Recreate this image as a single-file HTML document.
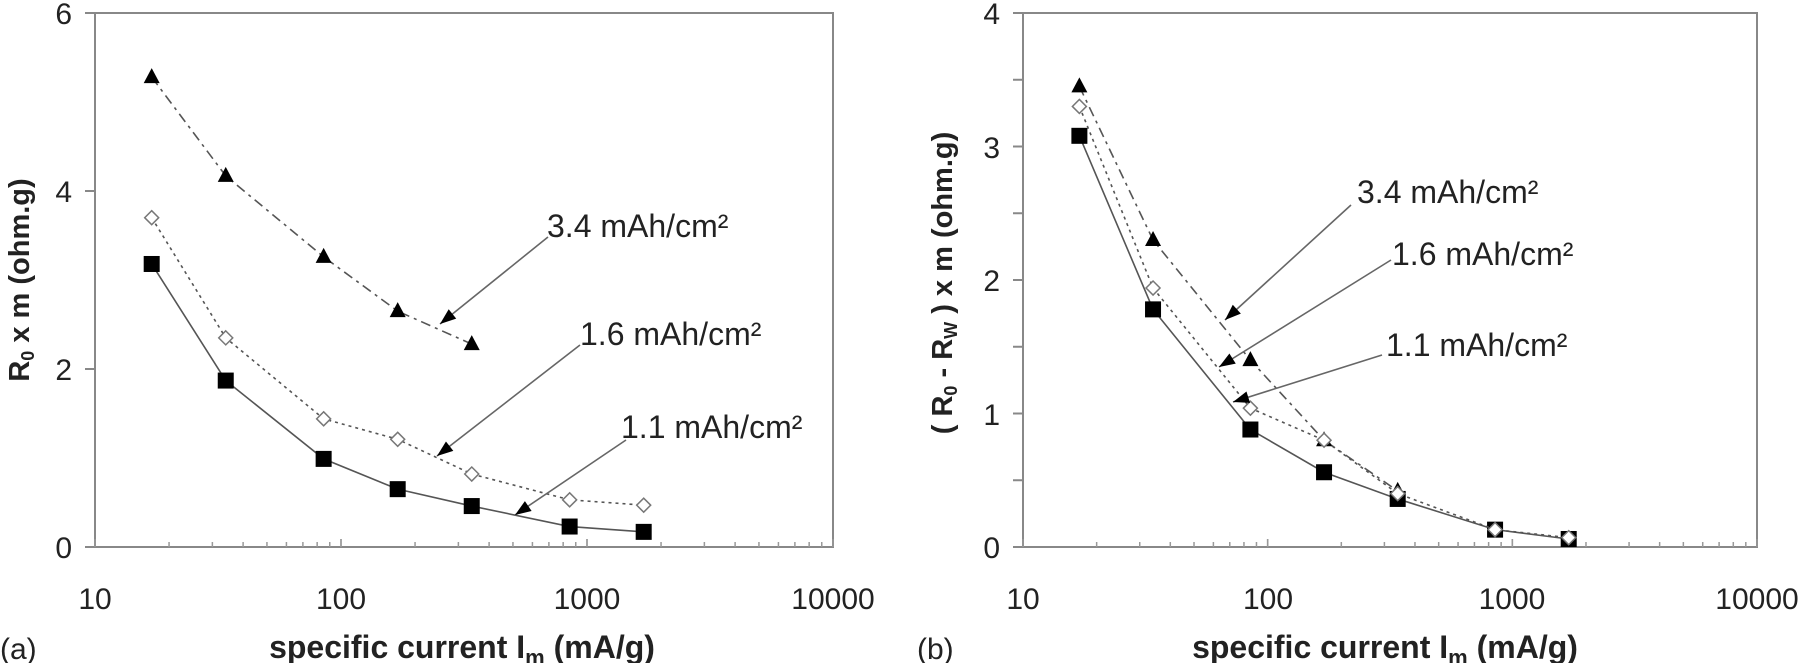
<!DOCTYPE html>
<html><head><meta charset="utf-8"><style>
body{margin:0;background:#fff;width:1800px;height:663px;overflow:hidden}
text{font-family:"Liberation Sans",Arial,sans-serif;fill:#222}
</style></head><body>
<svg id="s" width="1800" height="663" xmlns="http://www.w3.org/2000/svg">
<g font-size="30">
<text x="72" y="24" text-anchor="end">6</text>
<text x="72" y="202" text-anchor="end">4</text>
<text x="72" y="380" text-anchor="end">2</text>
<text x="72" y="558" text-anchor="end">0</text>
<text x="95" y="609" text-anchor="middle">10</text>
<text x="341" y="609" text-anchor="middle">100</text>
<text x="587" y="609" text-anchor="middle">1000</text>
<text x="833" y="609" text-anchor="middle">10000</text>
<text x="0" y="659">(a)</text>
</g>
<g font-size="32">
<text x="547" y="237">3.4 mAh/cm²</text>
<text x="580" y="345">1.6 mAh/cm²</text>
<text x="621" y="438">1.1 mAh/cm²</text>
</g>
<text x="462" y="658" font-size="32" font-weight="bold" text-anchor="middle">specific current I<tspan font-size="22" dy="7">m</tspan><tspan dy="-7"> (mA/g)</tspan></text>
<text transform="translate(29,280) rotate(-90)" font-size="29" font-weight="bold" text-anchor="middle">R<tspan font-size="18" dy="5">0</tspan><tspan dy="-5"> x m (ohm.g)</tspan></text>
<g font-size="30">
<text x="1000" y="24" text-anchor="end">4</text>
<text x="1000" y="158" text-anchor="end">3</text>
<text x="1000" y="291" text-anchor="end">2</text>
<text x="1000" y="425" text-anchor="end">1</text>
<text x="1000" y="558" text-anchor="end">0</text>
<text x="1023" y="609" text-anchor="middle">10</text>
<text x="1268" y="609" text-anchor="middle">100</text>
<text x="1512" y="609" text-anchor="middle">1000</text>
<text x="1757" y="609" text-anchor="middle">10000</text>
<text x="917" y="659">(b)</text>
</g>
<g font-size="32">
<text x="1357" y="203">3.4 mAh/cm²</text>
<text x="1392" y="265">1.6 mAh/cm²</text>
<text x="1386" y="356">1.1 mAh/cm²</text>
</g>
<text x="1385" y="658" font-size="32" font-weight="bold" text-anchor="middle">specific current I<tspan font-size="22" dy="7">m</tspan><tspan dy="-7"> (mA/g)</tspan></text>
<text transform="translate(952,283) rotate(-90)" font-size="29" font-weight="bold" text-anchor="middle">( R<tspan font-size="18" dy="5">0</tspan><tspan dy="-5"> - R</tspan><tspan font-size="18" dy="5">W</tspan><tspan dy="-5"> ) x m (ohm.g)</tspan></text>
</svg>
<script>
var s=document.getElementById('s'),NS='http://www.w3.org/2000/svg';
function el(t,a){var e=document.createElementNS(NS,t);for(var k in a)e.setAttribute(k,a[k]);s.appendChild(e);return e;}
function chart(x0,x1,y0,y1,ymax,minorY,data,arrows){
 var dec=(x1-x0)/3,uy=(y0-y1)/ymax;
 function X(v){return x0+(Math.log10(v)-1)*dec}
 function Y(v){return y0-v*uy}
 el('rect',{x:x0,y:y1,width:x1-x0,height:y0-y1,fill:'none',stroke:'#888','stroke-width':2});
 for(var i=0;i<=ymax;i+=minorY){var yy=Y(i);el('line',{x1:x0-10,x2:x0,y1:yy,y2:yy,stroke:'#888','stroke-width':2});}
 for(var d=0;d<3;d++)for(var m=1;m<=10;m++){var xx=x0+(d+Math.log10(m))*dec;el('line',{x1:xx,x2:xx,y1:y0,y2:y0-(m==10||m==1?8:5),stroke:'#999','stroke-width':1.5});}
 var xs=[17,34,85,170,340,850,1700];
 data.forEach(function(sr){
  var pts=sr.v.map(function(v,i){return [X(xs[i]),Y(v)]});
  el('polyline',{points:pts.map(function(p){return p.join(',')}).join(' '),fill:'none',stroke:'#555','stroke-width':1.6,'stroke-dasharray':sr.dash||''});
  pts.forEach(function(p){
   if(sr.m=='sq')el('rect',{x:p[0]-8,y:p[1]-8,width:16,height:16,fill:'#000'});
   else if(sr.m=='tri')el('polygon',{points:(p[0])+','+(p[1]-9)+' '+(p[0]-8)+','+(p[1]+6)+' '+(p[0]+8)+','+(p[1]+6),fill:'#000'});
   else el('polygon',{points:p[0]+','+(p[1]-7)+' '+(p[0]+7)+','+p[1]+' '+p[0]+','+(p[1]+7)+' '+(p[0]-7)+','+p[1],fill:'#fff',stroke:'#777','stroke-width':1.5});
  });
 });
 arrows.forEach(function(a){
  el('line',{x1:a[0],y1:a[1],x2:a[2],y2:a[3],stroke:'#666','stroke-width':1.6});
  var ang=Math.atan2(a[3]-a[1],a[2]-a[0]),L=16,W=6,bx=a[2]-L*Math.cos(ang),by=a[3]-L*Math.sin(ang);
  el('polygon',{points:a[2]+','+a[3]+' '+(bx-W*Math.sin(ang))+','+(by+W*Math.cos(ang))+' '+(bx+W*Math.sin(ang))+','+(by-W*Math.cos(ang)),fill:'#000'});
 });
}
chart(95,833,547,13,6,2,[
 {m:'sq',v:[3.18,1.87,0.99,0.65,0.46,0.23,0.17]},
 {m:'di',v:[3.7,2.35,1.44,1.21,0.82,0.53,0.47],dash:'3,4'},
 {m:'tri',v:[5.28,4.17,3.26,2.65,2.28],dash:'10,5,3,5'}
],[[548,237,440,324],[580,345,437,456],[626,440,515,515]]);
chart(1023,1757,547,13,4,0.5,[
 {m:'sq',v:[3.08,1.78,0.88,0.56,0.36,0.13,0.06]},
 {m:'tri',v:[3.45,2.3,1.4,0.8,0.42],dash:'10,5,3,5'},
 {m:'di',v:[3.3,1.94,1.04,0.8,0.4,0.13,0.07],dash:'3,4'}
],[[1351,205,1225,320],[1391,260,1219,367],[1382,355,1233,402]]);
</script>
</body></html>
